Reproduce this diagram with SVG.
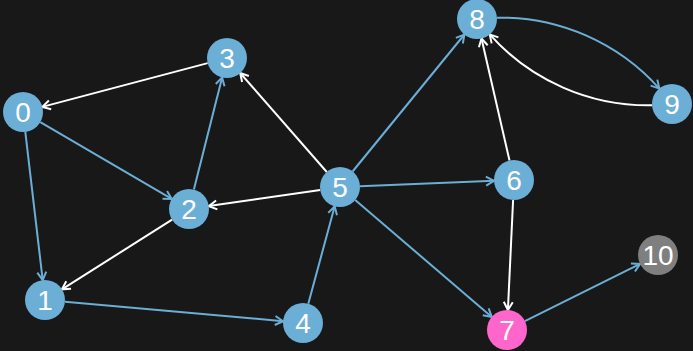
<svg xmlns="http://www.w3.org/2000/svg" width="693" height="351" viewBox="0 0 693 351">
<style>
.bg{fill:#181818}
.e{fill:none;stroke-width:2}
.b{stroke:#6baed6;marker-end:url(#ab)}
.w{stroke:#ffffff;marker-end:url(#aw)}
.n circle{stroke:none}
.n text{font-family:"Liberation Sans",Arial,sans-serif;font-size:28px;fill:#ffffff;text-anchor:middle}
</style>
<defs>
<marker id="ab" markerWidth="12" markerHeight="12" refX="10" refY="6" orient="auto" markerUnits="userSpaceOnUse" overflow="visible"><path d="M2,1.5 L10,6 L2,10.5" fill="none" stroke="#6baed6" stroke-width="2"/></marker>
<marker id="aw" markerWidth="12" markerHeight="12" refX="10" refY="6" orient="auto" markerUnits="userSpaceOnUse" overflow="visible"><path d="M2,1.5 L10,6 L2,10.5" fill="none" stroke="#ffffff" stroke-width="2"/></marker>
</defs>
<rect class="bg" x="0" y="0" width="693" height="351"/>
<g id="edges">
<path class="e w" d="M207.7,63.1 L42.3,106.9"/>
<path class="e b" d="M40.3,122.1 L171.7,198.9"/>
<path class="e b" d="M25.3,131.9 L42.7,280.1"/>
<path class="e b" d="M193.9,189.6 L222.1,77.4"/>
<path class="e w" d="M172.1,219.7 L61.9,289.3"/>
<path class="e b" d="M64.9,301.8 L283.1,321.2"/>
<path class="e b" d="M308.3,303.7 L334.7,206.3"/>
<path class="e w" d="M326.8,172.0 L240.2,73.0"/>
<path class="e w" d="M320.2,189.9 L208.8,206.1"/>
<path class="e b" d="M352.6,171.5 L464.4,34.5"/>
<path class="e b" d="M360.0,186.2 L494.0,180.8"/>
<path class="e b" d="M355.2,200.0 L491.8,317.0"/>
<path class="e w" d="M509.5,160.5 L481.5,38.5"/>
<path class="e w" d="M513.1,200.0 L507.9,310.0"/>
<path class="e b" d="M524.9,321.1 L640.1,263.9"/>
<path class="e b" d="M497,17.7 A212.7,212.7 0 0,1 659.3,88.6"/>
<path class="e w" d="M652,105.3 A212.7,212.7 0 0,1 489.7,34.4"/>
</g>
<g id="node0" class="n"><circle cx="23" cy="112" r="20" fill="#6baed6"/><text x="23" y="122">0</text></g>
<g id="node1" class="n"><circle cx="45" cy="300" r="20" fill="#6baed6"/><text x="45" y="310">1</text></g>
<g id="node2" class="n"><circle cx="189" cy="209" r="20" fill="#6baed6"/><text x="189" y="219">2</text></g>
<g id="node3" class="n"><circle cx="227" cy="58" r="20" fill="#6baed6"/><text x="227" y="68">3</text></g>
<g id="node4" class="n"><circle cx="303" cy="323" r="20" fill="#6baed6"/><text x="303" y="333">4</text></g>
<g id="node5" class="n"><circle cx="340" cy="187" r="20" fill="#6baed6"/><text x="340" y="197">5</text></g>
<g id="node6" class="n"><circle cx="514" cy="180" r="20" fill="#6baed6"/><text x="514" y="190">6</text></g>
<g id="node7" class="n"><circle cx="507" cy="330" r="20" fill="#ff66cc"/><text x="507" y="340">7</text></g>
<g id="node8" class="n"><circle cx="477" cy="19" r="20" fill="#6baed6"/><text x="477" y="29">8</text></g>
<g id="node9" class="n"><circle cx="672" cy="104" r="20" fill="#6baed6"/><text x="672" y="114">9</text></g>
<g id="node10" class="n"><circle cx="658" cy="255" r="20" fill="#7f7f7f"/><text x="658" y="265">10</text></g>
</svg>
